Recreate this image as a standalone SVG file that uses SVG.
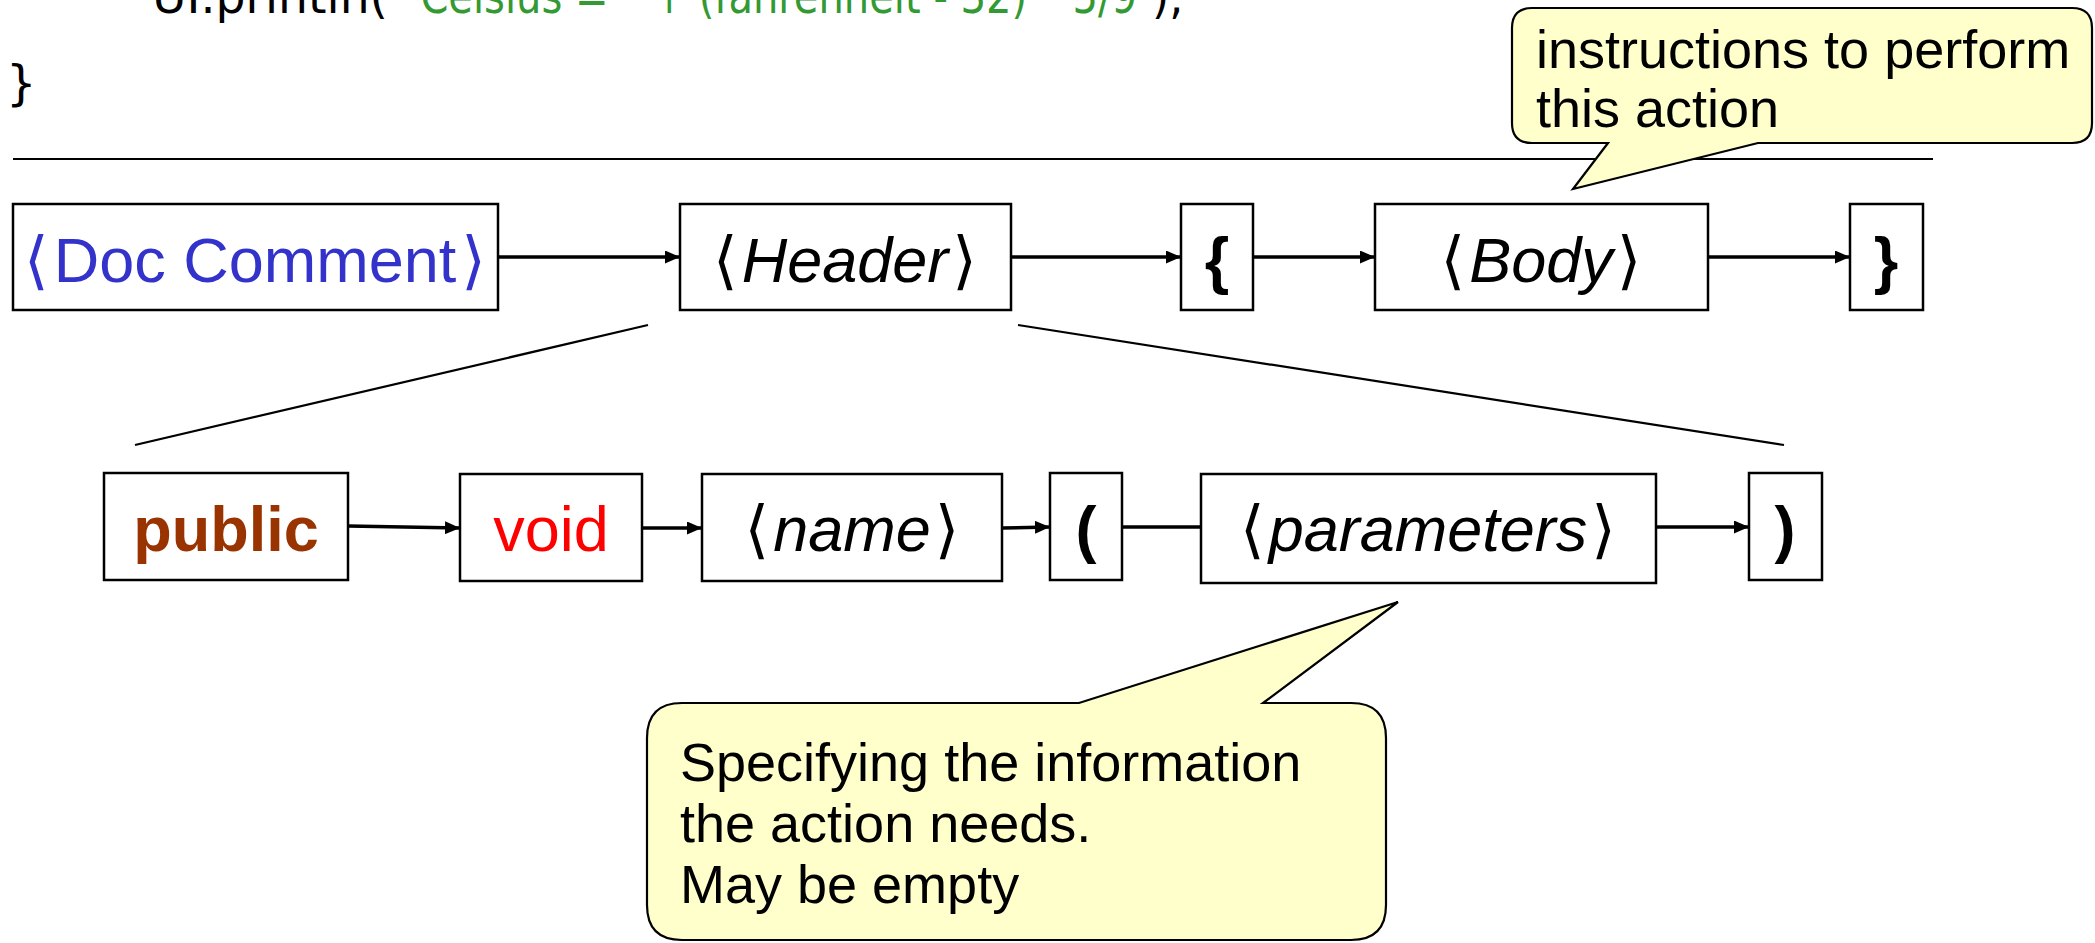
<svg xmlns="http://www.w3.org/2000/svg" width="2095" height="943" viewBox="0 0 2095 943">
<defs>
<style>
.box{fill:#fff;stroke:#000;stroke-width:2.5}
.lbl{font-family:"Liberation Sans",Arial,sans-serif;font-size:63px;text-anchor:middle;fill:#000}
.br{font-family:"DejaVu Sans",sans-serif;font-style:normal;font-weight:normal}
.it{font-style:italic}
.bd{font-weight:bold}
.conn{stroke:#000;stroke-width:3.5;fill:none}
.thin{stroke:#000;stroke-width:2.2;fill:none}
.call{fill:#FFFFCC;stroke:#000;stroke-width:2.2}
.ctext{font-family:"Liberation Sans",Arial,sans-serif;font-size:54px;fill:#000}
.code{font-family:"DejaVu Sans",sans-serif;font-size:48px}
</style>
<marker id="arr" viewBox="0 0 15 13" refX="15" refY="6.5" markerWidth="15" markerHeight="13" markerUnits="userSpaceOnUse" orient="auto">
<path d="M0,0 L15,6.5 L0,13 Z" fill="#000"/>
</marker>
</defs>
<rect width="2095" height="943" fill="#fff"/>

<g id="code">
<text class="code" x="152" y="13" fill="#000" textLength="236" lengthAdjust="spacingAndGlyphs">UI.println(</text>
<text class="code" x="402" y="13" fill="#339933" textLength="735" lengthAdjust="spacingAndGlyphs">"Celsius = " + (fahrenheit - 32) * 5/9</text>
<text class="code" x="1152" y="13" fill="#000" textLength="32" lengthAdjust="spacingAndGlyphs">);</text>
<text class="code" x="6" y="100" font-size="50" fill="#000">}</text>
</g>

<line x1="13" y1="159" x2="1933" y2="159" class="thin"/>

<g id="connectors">
<line x1="498" y1="257" x2="680" y2="257" class="conn" marker-end="url(#arr)"/>
<line x1="1011" y1="257" x2="1181" y2="257" class="conn" marker-end="url(#arr)"/>
<line x1="1253" y1="257" x2="1375" y2="257" class="conn" marker-end="url(#arr)"/>
<line x1="1708" y1="257" x2="1850" y2="257" class="conn" marker-end="url(#arr)"/>
<line x1="348" y1="526" x2="460" y2="528" class="conn" marker-end="url(#arr)"/>
<line x1="642" y1="528" x2="702" y2="528" class="conn" marker-end="url(#arr)"/>
<line x1="1002" y1="528" x2="1050" y2="527" class="conn" marker-end="url(#arr)"/>
<line x1="1122" y1="527" x2="1201" y2="527" class="conn"/>
<line x1="1656" y1="527" x2="1749" y2="527" class="conn" marker-end="url(#arr)"/>
<line x1="648" y1="325" x2="135" y2="445" class="thin"/>
<line x1="1018" y1="325" x2="1784" y2="445" class="thin"/>
</g>

<g id="doc-comment">
<rect x="13" y="204" width="485" height="106" class="box"/>
<text class="lbl" x="255" y="282" style="fill:#3333CC"><tspan class="br">⟨</tspan><tspan dx="5">Doc Comment</tspan><tspan class="br" dx="5">⟩</tspan></text>
</g>
<g id="header">
<rect x="680" y="204" width="331" height="106" class="box"/>
<text class="lbl" x="845" y="282"><tspan class="br">⟨</tspan><tspan class="it" dx="4">Header</tspan><tspan class="br" dx="4">⟩</tspan></text>
</g>
<g id="open-brace">
<rect x="1181" y="204" width="72" height="106" class="box"/>
<text class="lbl bd" x="1217" y="282">{</text>
</g>
<g id="body">
<rect x="1375" y="204" width="333" height="106" class="box"/>
<text class="lbl" x="1541" y="282"><tspan class="br">⟨</tspan><tspan class="it" dx="4">Body</tspan><tspan class="br" dx="4">⟩</tspan></text>
</g>
<g id="close-brace">
<rect x="1850" y="204" width="73" height="106" class="box"/>
<text class="lbl bd" x="1886" y="282">}</text>
</g>

<g id="public">
<rect x="104" y="473" width="244" height="107" class="box"/>
<text class="lbl bd" x="226" y="551" style="fill:#993300">public</text>
</g>
<g id="void">
<rect x="460" y="474" width="182" height="107" class="box"/>
<text class="lbl" x="551" y="551" style="fill:#FF0000">void</text>
</g>
<g id="name">
<rect x="702" y="474" width="300" height="107" class="box"/>
<text class="lbl" x="852" y="551"><tspan class="br">⟨</tspan><tspan class="it" dx="4">name</tspan><tspan class="br" dx="4">⟩</tspan></text>
</g>
<g id="open-paren">
<rect x="1050" y="473" width="72" height="107" class="box"/>
<text class="lbl bd" x="1086" y="551">(</text>
</g>
<g id="parameters">
<rect x="1201" y="474" width="455" height="109" class="box"/>
<text class="lbl" x="1428" y="551"><tspan class="br">⟨</tspan><tspan class="it" dx="4">parameters</tspan><tspan class="br" dx="4">⟩</tspan></text>
</g>
<g id="close-paren">
<rect x="1749" y="473" width="73" height="107" class="box"/>
<text class="lbl bd" x="1785" y="551">)</text>
</g>

<g id="callout-body">
<path class="call" d="M1532,8 H2072 Q2092,8 2092,28 V123 Q2092,143 2072,143 H1758 L1573,189 L1608,143 H1532 Q1512,143 1512,123 V28 Q1512,8 1532,8 Z"/>
<text class="ctext" x="1536" y="68">instructions to perform</text>
<text class="ctext" x="1536" y="127">this action</text>
</g>

<g id="callout-parameters">
<path class="call" d="M682,703 H1079 L1398,602 L1263,703 H1351 Q1386,703 1386,738 V905 Q1386,940 1351,940 H682 Q647,940 647,905 V738 Q647,703 682,703 Z"/>
<text class="ctext" x="680" y="781" font-size="53">Specifying the information</text>
<text class="ctext" x="680" y="842" font-size="53">the action needs.</text>
<text class="ctext" x="680" y="903" font-size="53">May be empty</text>
</g>
</svg>
